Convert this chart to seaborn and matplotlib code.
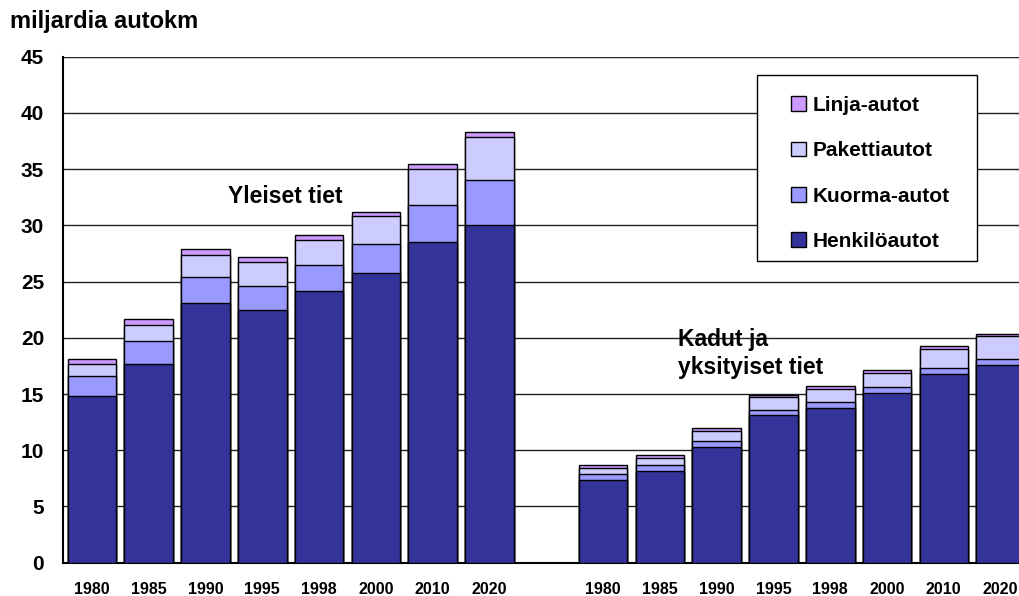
import matplotlib
matplotlib.use("Agg")
import matplotlib.pyplot as plt
from matplotlib.patches import Patch, Rectangle
import seaborn as sns
import pandas as pd
import numpy as np

# ---- data ----
years = ["1980", "1985", "1990", "1995", "1998", "2000", "2010", "2020"]
groups = ["Yleiset tiet", "Kadut ja\nyksityiset tiet"]
series = ["Henkilöautot", "Kuorma-autot", "Pakettiautot", "Linja-autot"]
colors = ["#333399", "#9999FF", "#CCCCFF", "#CC99FF"]

# Yleiset tiet
yl_henkilo = [14.8, 17.7, 23.1, 22.5, 24.2, 25.8, 28.55, 30.0]
yl_kuorma = [1.8, 2.05, 2.3, 2.15, 2.3, 2.5, 3.25, 4.0]
yl_paketti = [1.05, 1.4, 2.0, 2.05, 2.2, 2.5, 3.2, 3.85]
yl_linja = [0.5, 0.5, 0.5, 0.5, 0.4, 0.4, 0.45, 0.45]

# Kadut ja yksityiset tiet
ka_henkilo = [7.35, 8.15, 10.3, 13.1, 13.8, 15.05, 16.8, 17.6]
ka_kuorma = [0.55, 0.55, 0.5, 0.5, 0.5, 0.55, 0.5, 0.5]
ka_paketti = [0.5, 0.6, 0.9, 1.1, 1.15, 1.3, 1.7, 2.05]
ka_linja = [0.3, 0.25, 0.25, 0.2, 0.25, 0.25, 0.25, 0.2]

yticks = [0, 5, 10, 15, 20, 25, 30, 35, 40, 45]

# ---- table ----
left_keys = ["Y" + y for y in years]
right_keys = ["K" + y for y in years]
gap_key = "gap"
order = left_keys + [gap_key] + right_keys
ticklabels = years + [""] + years

df = pd.DataFrame({
    "key": left_keys + right_keys,
    "Henkilöautot": yl_henkilo + ka_henkilo,
    "Kuorma-autot": yl_kuorma + ka_kuorma,
    "Pakettiautot": yl_paketti + ka_paketti,
    "Linja-autot": yl_linja + ka_linja,
})
cum = df[series].cumsum(axis=1)
cum["key"] = df["key"]

# ---- figure ----
sns.set_style("white")
plt.rcParams["font.family"] = ["Liberation Sans", "DejaVu Sans"]
plt.rcParams["font.weight"] = "bold"
plt.rcParams["text.color"] = "black"
plt.rcParams["xtick.color"] = "black"
plt.rcParams["ytick.color"] = "black"
plt.rcParams["xtick.labelcolor"] = "black"
plt.rcParams["ytick.labelcolor"] = "black"

fig = plt.figure(figsize=(10.2, 5.96), dpi=100)
ax = fig.add_axes([63.5 / 1020, 1 - 562.7 / 596, (1029 - 63.5) / 1020, (562.7 - 56.7) / 596])

for s, c in reversed(list(zip(series, colors))):
    sns.barplot(data=cum, x="key", y=s, order=order, color=c, saturation=1,
                width=0.855, edgecolor="black", linewidth=1.0, errorbar=None,
                ax=ax, zorder=3)

ax.set_ylim(0, 45)
ax.set_xlim(-0.5, len(order) - 0.5)
ax.set_yticks(yticks)
ax.set_yticklabels([str(v) for v in yticks], fontsize=15, fontweight="bold", color="black")
ax.set_xticks(range(len(order)))
ax.set_xticklabels(ticklabels, fontsize=11.5, fontweight="bold", color="black")
ax.set_xticks(np.arange(-0.5, len(order), 1.0), minor=True)
ax.tick_params(axis="x", which="major", length=0, pad=14)
ax.tick_params(axis="x", which="minor", length=5, width=1, color="black", direction="out")
ax.tick_params(axis="y", which="major", length=5, width=1, color="black", direction="out", pad=9)
ax.set_xlabel("")
ax.set_ylabel("")

ax.yaxis.grid(True, color="#222222", linewidth=1.0, zorder=0)
ax.set_axisbelow(True)
for sp in ["top", "right"]:
    ax.spines[sp].set_visible(False)
for sp in ["left", "bottom"]:
    ax.spines[sp].set_color("black")
    ax.spines[sp].set_linewidth(1.5)

# group labels
ax.text(3.4, 32.55, groups[0], ha="center", va="center", fontsize=16.5, fontweight="bold",
        color="black")
ax.text(10.32, 18.6, groups[1], ha="left", va="center", fontsize=16.5, fontweight="bold",
        linespacing=1.25, color="black")

fig.text(10 / 1020, 1 - 28 / 596, "miljardia autokm", ha="left", va="baseline",
         fontsize=17, fontweight="bold", color="black")

# legend frame
fig.add_artist(Rectangle((757 / 1020, 1 - 261 / 596), 220 / 1020, 186 / 596,
                         transform=fig.transFigure, facecolor="white",
                         edgecolor="black", linewidth=1.0, zorder=2))
handles = [Patch(facecolor=c, edgecolor="black", linewidth=1.0, label=s)
           for s, c in reversed(list(zip(series, colors)))]
leg = fig.legend(handles=handles, loc="upper left",
                 bbox_to_anchor=(791 / 1020, 1 - 96 / 596), bbox_transform=fig.transFigure,
                 frameon=False,
                 prop={"size": 15, "weight": "bold"},
                 handlelength=0.72, handleheight=0.72, handletextpad=0.32,
                 labelspacing=1.26, borderpad=0, borderaxespad=0)
leg.set_zorder(6)
for t in leg.get_texts():
    t.set_color("black")

fig.savefig("out.png", dpi=100)
